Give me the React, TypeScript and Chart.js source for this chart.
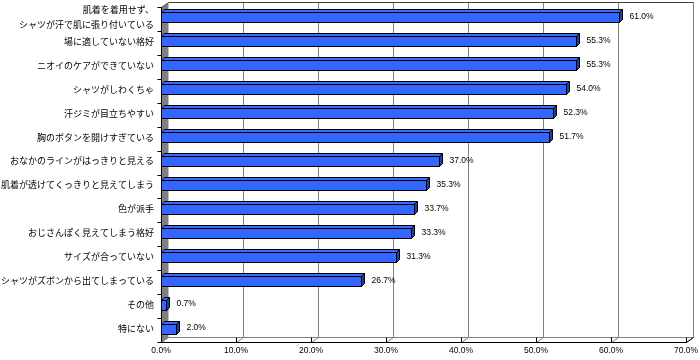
import React, { useEffect, useRef } from "react";
import { Chart, registerables } from "chart.js";

Chart.register(...registerables);

const categories: (string | string[])[] = [
  ["肌着を着用せず、", "シャツが汗で肌に張り付いている"],
  "場に適していない格好",
  "ニオイのケアができていない",
  "シャツがしわくちゃ",
  "汗ジミが目立ちやすい",
  "胸のボタンを開けすぎている",
  "おなかのラインがはっきりと見える",
  "肌着が透けてくっきりと見えてしまう",
  "色が派手",
  "おじさんぽく見えてしまう格好",
  "サイズが合っていない",
  "シャツがズボンから出てしまっている",
  "その他",
  "特にない",
];
const values = [61.0, 55.3, 55.3, 54.0, 52.3, 51.7, 37.0, 35.3, 33.7, 33.3, 31.3, 26.7, 0.7, 2.0];
const xMin = 0;
const xMax = 70;
const xStep = 10;

const FRONT = "#3366ff";
const TOPC = "#3a6bff";
const SIDE = "#1f3fa8";

const threeD = {
  id: "threeD",
  beforeDatasetsDraw(chart: any) {
    const { ctx, chartArea } = chart;
    const xs = chart.scales.x;
    const L = Math.round(chartArea.left) + 0.5;
    const R = Math.round(chartArea.right) + 0.5;
    const T = Math.round(chartArea.top) + 0.5;
    const B = Math.round(chartArea.bottom) + 0.5;
    const DX = 7, DY = 5;
    ctx.save();
    ctx.lineWidth = 1;
    ctx.fillStyle = "#808080";
    ctx.beginPath();
    ctx.moveTo(L, T);
    ctx.lineTo(L + DX, T - DY);
    ctx.lineTo(L + DX, B - DY);
    ctx.lineTo(L, B);
    ctx.closePath();
    ctx.fill();
    ctx.strokeStyle = "#808080";
    for (let v = xMin; v <= xMax; v += xStep) {
      const x = Math.round(xs.getPixelForValue(v)) + 0.5;
      if (v > xMin) {
        ctx.beginPath();
        ctx.moveTo(x + DX, T - DY);
        ctx.lineTo(x + DX, B - DY);
        ctx.stroke();
      }
      ctx.beginPath();
      ctx.moveTo(x, B);
      ctx.lineTo(x + DX, B - DY);
      ctx.stroke();
    }
    ctx.beginPath();
    ctx.moveTo(L + DX, B - DY);
    ctx.lineTo(R + DX, B - DY);
    ctx.stroke();
    ctx.strokeStyle = "#404040";
    ctx.beginPath();
    ctx.moveTo(L + DX, T - DY);
    ctx.lineTo(R + DX, T - DY);
    ctx.stroke();
    ctx.beginPath();
    ctx.moveTo(L, T);
    ctx.lineTo(L + DX, T - DY);
    ctx.stroke();
    ctx.strokeStyle = "#000";
    ctx.beginPath();
    ctx.moveTo(L, T);
    ctx.lineTo(L, B);
    ctx.lineTo(R, B);
    ctx.stroke();
    for (let v = xMin; v <= xMax; v += xStep) {
      const x = Math.round(xs.getPixelForValue(v)) + 0.5;
      ctx.beginPath();
      ctx.moveTo(x, B);
      ctx.lineTo(x, B - DY);
      ctx.stroke();
    }
    ctx.beginPath();
    ctx.moveTo(R, B);
    ctx.lineTo(R + DX, B - DY);
    ctx.stroke();
    const n = categories.length;
    const pitch = (chartArea.bottom - chartArea.top) / n;
    for (let i = 0; i <= n; i++) {
      const y = Math.round(chartArea.top + i * pitch) + 0.5;
      ctx.beginPath();
      ctx.moveTo(L - 4, y);
      ctx.lineTo(L, y);
      ctx.stroke();
    }
    ctx.restore();
  },
  afterDatasetsDraw(chart: any) {
    const { ctx } = chart;
    const meta = chart.getDatasetMeta(0);
    ctx.save();
    ctx.lineWidth = 1;
    ctx.strokeStyle = "#000";
    const d = 3, dv = 3;
    meta.data.forEach((el: any, i: number) => {
      const p = el.getProps(["x", "y", "base", "height"], true);
      const left = Math.round(p.base) + 0.5;
      const right = Math.round(p.x) + 0.5;
      const yc = p.y - 1.5;
      const top = Math.round(yc - p.height / 2) + 0.5;
      const bottom = Math.round(yc + p.height / 2) + 0.5;
      ctx.fillStyle = TOPC;
      ctx.beginPath();
      ctx.moveTo(left, top);
      ctx.lineTo(left + d, top - dv);
      ctx.lineTo(right + d, top - dv);
      ctx.lineTo(right, top);
      ctx.closePath();
      ctx.fill();
      ctx.stroke();
      ctx.fillStyle = SIDE;
      ctx.beginPath();
      ctx.moveTo(right, top);
      ctx.lineTo(right + d, top - dv);
      ctx.lineTo(right + d, bottom - dv);
      ctx.lineTo(right, bottom);
      ctx.closePath();
      ctx.fill();
      ctx.stroke();
      ctx.fillStyle = FRONT;
      ctx.fillRect(left, top, right - left, bottom - top);
      ctx.strokeRect(left, top, right - left, bottom - top);
      ctx.fillStyle = "#000";
      ctx.font = '8.5px "Liberation Sans", Arial, sans-serif';
      ctx.textAlign = "left";
      ctx.textBaseline = "middle";
      ctx.fillText(values[i].toFixed(1) + "%", right + 10, yc - 0.5);
    });
    ctx.restore();
  },
};

export default function App() {
  const ref = useRef<HTMLCanvasElement>(null);
  useEffect(() => {
    document.body.style.margin = "0";
    const chart = new Chart(ref.current!, {
      type: "bar",
      data: {
        labels: categories,
        datasets: [
          {
            data: values,
            backgroundColor: "rgba(0,0,0,0)",
            borderWidth: 0,
            barThickness: 10,
          },
        ],
      },
      options: {
        indexAxis: "y",
        responsive: false,
        animation: false,
        events: [],
        layout: { padding: { top: 7, right: 14, left: 0, bottom: 0 }, autoPadding: false } as any,
        plugins: { legend: { display: false }, tooltip: { enabled: false } },
        scales: {
          x: {
            min: xMin,
            max: xMax,
            grid: { display: false, drawTicks: false },
            border: { display: false },
            ticks: {
              stepSize: xStep,
              autoSkip: false,
              maxRotation: 0,
              padding: 4,
              color: "#000",
              font: { family: '"Liberation Sans", Arial, sans-serif', size: 8.5 },
              callback: (v: any) => Number(v).toFixed(1) + "%",
            },
            afterFit: (s: any) => {
              s.height = 18;
              s.paddingLeft = 0;
              s.paddingRight = 0;
            },
          },
          y: {
            grid: { display: false, drawTicks: false },
            border: { display: false },
            ticks: {
              autoSkip: false,
              padding: 7,
              labelOffset: -1.5,
              color: "#000",
              font: { family: '"Noto Sans CJK JP", sans-serif', size: 9, lineHeight: 1.65 },
            },
            afterFit: (s: any) => {
              s.width = 161;
              s.paddingTop = 0;
              s.paddingBottom = 0;
            },
          },
        },
      },
      plugins: [threeD],
    });
    return () => chart.destroy();
  }, []);
  return <canvas ref={ref} width={700} height={360} style={{ display: "block" }} />;
}
